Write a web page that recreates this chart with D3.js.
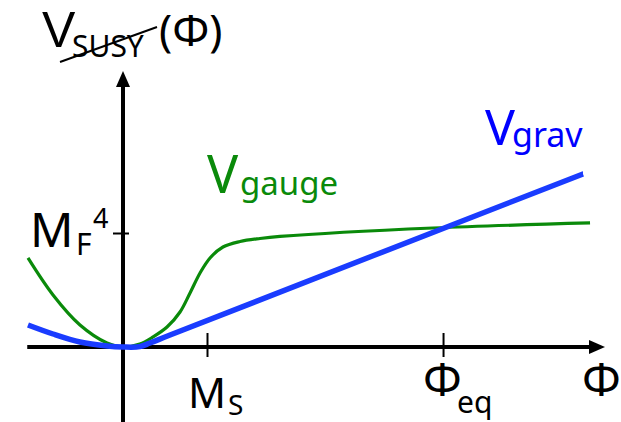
<!DOCTYPE html>
<html><head><meta charset="utf-8">
<script src="https://cdn.jsdelivr.net/npm/d3@7"></script>
<style>html,body{margin:0;padding:0;background:#fff;} svg{display:block;font-family:"Noto Sans","DejaVu Sans",sans-serif;}</style>
</head><body>
<svg id="c" width="621" height="422"></svg>
<script>
// Field value Φ (units of M_S) and potential V (units of M_F^4)
const gaugePhi = [-1.131, -0.833, -0.512, -0.19, 0, 0.2, 0.357, 0.524, 0.679, 0.798, 0.917, 1.036, 1.19, 1.393, 1.631, 1.869, 3.69, 5.56];
const gaugeV   = [0.781, 0.456, 0.193, 0.035, 0, 0.026, 0.088, 0.175, 0.307, 0.474, 0.649, 0.781, 0.877, 0.925, 0.952, 0.97, 1.044, 1.088];
const gravPhi  = [-1.131, -0.833, -0.512, -0.19, 0, 0.2, 0.321, 0.56, 5.476];
const gravV    = [0.193, 0.114, 0.044, 0.009, 0, 0.003, 0.035, 0.105, 1.518];
const xTicks = [1, 3.81];      // M_S, Φ_eq
const yTicks = [1];            // M_F^4

const svg = d3.select("#c");
const x = d3.scaleLinear().domain([0, 1]).range([123, 207]);
const y = d3.scaleLinear().domain([0, 1]).range([347, 233]);

// arrow markers
const defs = svg.append("defs");
defs.append("marker").attr("id","arr").attr("viewBox","0 0 16 14").attr("refX",0).attr("refY",7)
  .attr("markerWidth",16).attr("markerHeight",14).attr("markerUnits","userSpaceOnUse").attr("orient","auto")
  .append("path").attr("d","M0,0 L16,7 L0,14 Z").attr("fill","#000");

// main axes
svg.append("line").attr("x1", x(-1.14)).attr("x2", 589).attr("y1", y(0)).attr("y2", y(0))
  .attr("stroke","#000").attr("stroke-width",4).attr("marker-end","url(#arr)");
svg.append("line").attr("x1", x(0)).attr("x2", x(0)).attr("y1", 422).attr("y2", 87)
  .attr("stroke","#000").attr("stroke-width",4).attr("marker-end","url(#arr)");

// ticks through d3 axes
const xa = svg.append("g").attr("transform",`translate(0,${y(0)})`)
  .call(d3.axisBottom(x).tickValues(xTicks).tickFormat("").tickSize(10));
xa.select(".domain").remove();
xa.selectAll(".tick line").attr("y1",-14).attr("y2",10).attr("stroke","#000").attr("stroke-width",2);
const ya = svg.append("g").attr("transform",`translate(${x(0)},0)`)
  .call(d3.axisLeft(y).tickValues(yTicks).tickFormat("").tickSize(10));
ya.select(".domain").remove();
ya.selectAll(".tick line").attr("x1",-10).attr("x2",6).attr("stroke","#000").attr("stroke-width",2);

// curves
const line = d3.line().x(d => x(d[0])).y(d => y(d[1])).curve(d3.curveCatmullRom.alpha(0.5));
svg.append("path").datum(gaugePhi.map((p,i)=>[p,gaugeV[i]])).attr("d", line)
  .attr("fill","none").attr("stroke","#0a8a0a").attr("stroke-width",3.2).attr("stroke-linejoin","round");
svg.append("path").datum(gravPhi.map((p,i)=>[p,gravV[i]])).attr("d", line)
  .attr("fill","none").attr("stroke","#1a3cff").attr("stroke-width",5.5).attr("stroke-linejoin","round");

// labels
function lab(tx, ty, str, size, color){
  return svg.append("text").attr("x",tx).attr("y",ty).attr("font-size",size).attr("fill",color||"#000").text(str);
}
// y-axis title: V_SUSY(Φ) with strike-through
lab(42, 47, "V", 50).attr("font-family","Liberation Sans, Arial, sans-serif");
lab(72, 57, "SUSY", 30);
lab(159, 46, "(Φ)", 44);
svg.append("line").attr("x1",60).attr("y1",62).attr("x2",157).attr("y2",27).attr("stroke","#000").attr("stroke-width",2);

// M_F^4
lab(30, 247, "M", 48);
lab(76, 255, "F", 30);
lab(93, 228, "4", 27);

// M_S
lab(188, 408, "M", 42);
lab(228, 415, "S", 28);

// Φ_eq
lab(423, 396, "Φ", 46);
lab(457, 413, "eq", 30);

// Φ axis label
lab(582, 396, "Φ", 46);

// V_gauge
lab(207, 193, "V", 52, "#0a8a0a");
lab(240, 195, "gauge", 33, "#0a8a0a");

// V_grav
lab(485, 145, "V", 50, "#0000ff");
lab(512, 147, "grav", 34, "#0000ff");
</script>
</body></html>
